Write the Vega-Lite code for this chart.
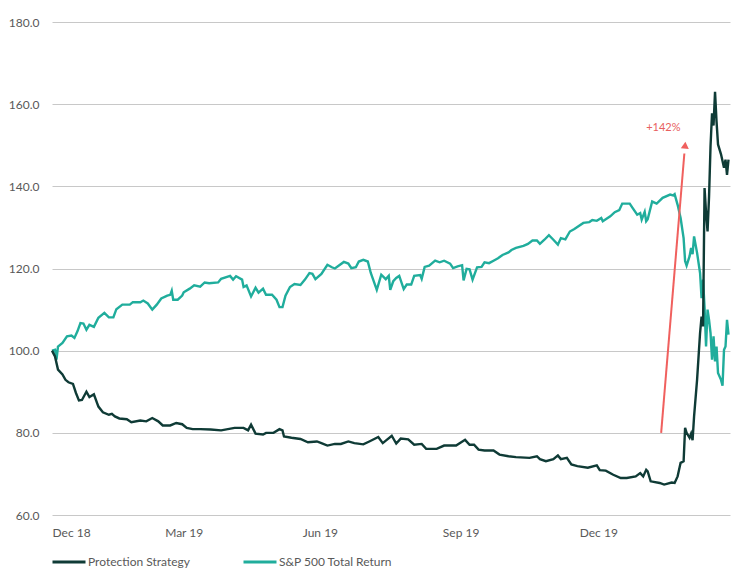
{
  "$schema": "https://vega.github.io/schema/vega-lite/v6.json",
  "width": 678,
  "height": 493,
  "autosize": {"type": "none"},
  "padding": {"left": 52, "top": 22, "right": 24, "bottom": 68},
  "config": {"view": {"stroke": null}, "font": "Lato"},
  "datasets": {
    "sp500": [
      {"date": "2018-12-31", "value": 100},
      {"date": "2019-01-02", "value": 100.2},
      {"date": "2019-01-03", "value": 97.8},
      {"date": "2019-01-04", "value": 101},
      {"date": "2019-01-07", "value": 101.9},
      {"date": "2019-01-10", "value": 103.5},
      {"date": "2019-01-13", "value": 103.7},
      {"date": "2019-01-15", "value": 103.1},
      {"date": "2019-01-17", "value": 104.7},
      {"date": "2019-01-19", "value": 106.7},
      {"date": "2019-01-21", "value": 106.6},
      {"date": "2019-01-23", "value": 105.1},
      {"date": "2019-01-25", "value": 106.3},
      {"date": "2019-01-28", "value": 105.8},
      {"date": "2019-01-31", "value": 108},
      {"date": "2019-02-04", "value": 109.2},
      {"date": "2019-02-07", "value": 108.1},
      {"date": "2019-02-10", "value": 108.1},
      {"date": "2019-02-12", "value": 110.1},
      {"date": "2019-02-16", "value": 111.2},
      {"date": "2019-02-21", "value": 111.2},
      {"date": "2019-02-23", "value": 111.8},
      {"date": "2019-02-28", "value": 111.8},
      {"date": "2019-03-02", "value": 112.2},
      {"date": "2019-03-05", "value": 111.5},
      {"date": "2019-03-08", "value": 110},
      {"date": "2019-03-11", "value": 111.2},
      {"date": "2019-03-14", "value": 112.7},
      {"date": "2019-03-18", "value": 113.4},
      {"date": "2019-03-20", "value": 113.6},
      {"date": "2019-03-21", "value": 114.6},
      {"date": "2019-03-22", "value": 112.4},
      {"date": "2019-03-25", "value": 112.4},
      {"date": "2019-03-28", "value": 113.4},
      {"date": "2019-03-29", "value": 114.2},
      {"date": "2019-04-02", "value": 115.1},
      {"date": "2019-04-05", "value": 115.9},
      {"date": "2019-04-09", "value": 115.6},
      {"date": "2019-04-12", "value": 116.6},
      {"date": "2019-04-15", "value": 116.4},
      {"date": "2019-04-21", "value": 116.6},
      {"date": "2019-04-23", "value": 117.5},
      {"date": "2019-04-29", "value": 118.2},
      {"date": "2019-05-01", "value": 117.3},
      {"date": "2019-05-03", "value": 118.1},
      {"date": "2019-05-07", "value": 117.3},
      {"date": "2019-05-08", "value": 115.5},
      {"date": "2019-05-10", "value": 115.9},
      {"date": "2019-05-13", "value": 113.2},
      {"date": "2019-05-16", "value": 115.3},
      {"date": "2019-05-18", "value": 114.1},
      {"date": "2019-05-21", "value": 115.1},
      {"date": "2019-05-23", "value": 113.6},
      {"date": "2019-05-27", "value": 113.6},
      {"date": "2019-05-30", "value": 112.4},
      {"date": "2019-06-01", "value": 110.6},
      {"date": "2019-06-03", "value": 110.6},
      {"date": "2019-06-05", "value": 113.4},
      {"date": "2019-06-08", "value": 115.5},
      {"date": "2019-06-11", "value": 116.2},
      {"date": "2019-06-15", "value": 116},
      {"date": "2019-06-18", "value": 117.3},
      {"date": "2019-06-21", "value": 118.9},
      {"date": "2019-06-23", "value": 118.7},
      {"date": "2019-06-25", "value": 117.4},
      {"date": "2019-06-29", "value": 118.7},
      {"date": "2019-07-03", "value": 120.9},
      {"date": "2019-07-06", "value": 120.3},
      {"date": "2019-07-08", "value": 120},
      {"date": "2019-07-14", "value": 121.6},
      {"date": "2019-07-17", "value": 121.2},
      {"date": "2019-07-19", "value": 120.1},
      {"date": "2019-07-22", "value": 120.3},
      {"date": "2019-07-24", "value": 121.7},
      {"date": "2019-07-27", "value": 122.1},
      {"date": "2019-07-30", "value": 121.7},
      {"date": "2019-08-01", "value": 118.9},
      {"date": "2019-08-05", "value": 114.8},
      {"date": "2019-08-08", "value": 118.5},
      {"date": "2019-08-11", "value": 117.4},
      {"date": "2019-08-13", "value": 118.2},
      {"date": "2019-08-14", "value": 114.8},
      {"date": "2019-08-16", "value": 116.9},
      {"date": "2019-08-18", "value": 117.7},
      {"date": "2019-08-20", "value": 118.2},
      {"date": "2019-08-23", "value": 115},
      {"date": "2019-08-25", "value": 116.1},
      {"date": "2019-08-28", "value": 116.1},
      {"date": "2019-08-30", "value": 118.2},
      {"date": "2019-09-03", "value": 118.4},
      {"date": "2019-09-04", "value": 117.5},
      {"date": "2019-09-06", "value": 120.4},
      {"date": "2019-09-09", "value": 120.7},
      {"date": "2019-09-13", "value": 121.9},
      {"date": "2019-09-16", "value": 121.5},
      {"date": "2019-09-19", "value": 121.9},
      {"date": "2019-09-23", "value": 121.2},
      {"date": "2019-09-25", "value": 120.1},
      {"date": "2019-09-28", "value": 120.5},
      {"date": "2019-10-01", "value": 120.8},
      {"date": "2019-10-02", "value": 117.1},
      {"date": "2019-10-04", "value": 119.9},
      {"date": "2019-10-06", "value": 119.8},
      {"date": "2019-10-08", "value": 117.3},
      {"date": "2019-10-11", "value": 120.3},
      {"date": "2019-10-14", "value": 120.4},
      {"date": "2019-10-16", "value": 121.5},
      {"date": "2019-10-19", "value": 121.3},
      {"date": "2019-10-22", "value": 121.9},
      {"date": "2019-10-25", "value": 122.5},
      {"date": "2019-10-28", "value": 123.3},
      {"date": "2019-11-01", "value": 123.9},
      {"date": "2019-11-03", "value": 124.5},
      {"date": "2019-11-06", "value": 125},
      {"date": "2019-11-11", "value": 125.5},
      {"date": "2019-11-14", "value": 126},
      {"date": "2019-11-17", "value": 126.8},
      {"date": "2019-11-20", "value": 126.8},
      {"date": "2019-11-22", "value": 126},
      {"date": "2019-11-25", "value": 127},
      {"date": "2019-11-28", "value": 128.1},
      {"date": "2019-12-01", "value": 127},
      {"date": "2019-12-04", "value": 125.8},
      {"date": "2019-12-06", "value": 127.4},
      {"date": "2019-12-09", "value": 127.1},
      {"date": "2019-12-12", "value": 129},
      {"date": "2019-12-15", "value": 129.6},
      {"date": "2019-12-21", "value": 131.1},
      {"date": "2019-12-25", "value": 131.3},
      {"date": "2019-12-27", "value": 131.8},
      {"date": "2019-12-30", "value": 131.6},
      {"date": "2020-01-02", "value": 132.3},
      {"date": "2020-01-03", "value": 131.5},
      {"date": "2020-01-08", "value": 132.7},
      {"date": "2020-01-11", "value": 133.7},
      {"date": "2020-01-14", "value": 134.2},
      {"date": "2020-01-16", "value": 135.8},
      {"date": "2020-01-21", "value": 135.8},
      {"date": "2020-01-23", "value": 134.7},
      {"date": "2020-01-26", "value": 133.1},
      {"date": "2020-01-28", "value": 133.5},
      {"date": "2020-01-29", "value": 131.9},
      {"date": "2020-01-31", "value": 133.8},
      {"date": "2020-02-01", "value": 131.5},
      {"date": "2020-02-02", "value": 132},
      {"date": "2020-02-05", "value": 136.3},
      {"date": "2020-02-08", "value": 135.8},
      {"date": "2020-02-12", "value": 137.2},
      {"date": "2020-02-17", "value": 138},
      {"date": "2020-02-19", "value": 137.8},
      {"date": "2020-02-20", "value": 138.1},
      {"date": "2020-02-22", "value": 135.5},
      {"date": "2020-02-24", "value": 132.3},
      {"date": "2020-02-26", "value": 127.4},
      {"date": "2020-02-27", "value": 121.8},
      {"date": "2020-02-28", "value": 120.7},
      {"date": "2020-03-01", "value": 123},
      {"date": "2020-03-02", "value": 125},
      {"date": "2020-03-03", "value": 123.5},
      {"date": "2020-03-04", "value": 127.8},
      {"date": "2020-03-06", "value": 123.8},
      {"date": "2020-03-08", "value": 118.9},
      {"date": "2020-03-09", "value": 112.8},
      {"date": "2020-03-10", "value": 117.3},
      {"date": "2020-03-11", "value": 110.5},
      {"date": "2020-03-12", "value": 101},
      {"date": "2020-03-13", "value": 110},
      {"date": "2020-03-14", "value": 107.5},
      {"date": "2020-03-15", "value": 104.3},
      {"date": "2020-03-16", "value": 97.8},
      {"date": "2020-03-17", "value": 103.5},
      {"date": "2020-03-18", "value": 97.4},
      {"date": "2020-03-19", "value": 101},
      {"date": "2020-03-20", "value": 94.6},
      {"date": "2020-03-22", "value": 92.9},
      {"date": "2020-03-23", "value": 91.5},
      {"date": "2020-03-24", "value": 100.2},
      {"date": "2020-03-25", "value": 101},
      {"date": "2020-03-26", "value": 107.5},
      {"date": "2020-03-27", "value": 103.9}
    ],
    "protection": [
      {"date": "2018-12-31", "value": 100},
      {"date": "2019-01-02", "value": 98.6},
      {"date": "2019-01-04", "value": 95.4},
      {"date": "2019-01-07", "value": 94.2},
      {"date": "2019-01-09", "value": 92.9},
      {"date": "2019-01-11", "value": 92.3},
      {"date": "2019-01-14", "value": 91.9},
      {"date": "2019-01-16", "value": 89.7},
      {"date": "2019-01-18", "value": 87.9},
      {"date": "2019-01-20", "value": 88},
      {"date": "2019-01-23", "value": 90},
      {"date": "2019-01-25", "value": 88.7},
      {"date": "2019-01-28", "value": 89.4},
      {"date": "2019-01-31", "value": 86.4},
      {"date": "2019-02-03", "value": 85},
      {"date": "2019-02-07", "value": 84.4},
      {"date": "2019-02-09", "value": 84.6},
      {"date": "2019-02-11", "value": 84},
      {"date": "2019-02-14", "value": 83.5},
      {"date": "2019-02-19", "value": 83.3},
      {"date": "2019-02-22", "value": 82.6},
      {"date": "2019-02-28", "value": 83},
      {"date": "2019-03-04", "value": 82.8},
      {"date": "2019-03-08", "value": 83.6},
      {"date": "2019-03-12", "value": 82.8},
      {"date": "2019-03-15", "value": 81.8},
      {"date": "2019-03-20", "value": 81.8},
      {"date": "2019-03-24", "value": 82.4},
      {"date": "2019-03-28", "value": 82.1},
      {"date": "2019-03-31", "value": 81.2},
      {"date": "2019-04-04", "value": 80.9},
      {"date": "2019-04-09", "value": 80.9},
      {"date": "2019-04-16", "value": 80.8},
      {"date": "2019-04-23", "value": 80.6},
      {"date": "2019-05-02", "value": 81.2},
      {"date": "2019-05-08", "value": 81.2},
      {"date": "2019-05-11", "value": 80.6},
      {"date": "2019-05-13", "value": 82},
      {"date": "2019-05-16", "value": 79.8},
      {"date": "2019-05-21", "value": 79.6},
      {"date": "2019-05-23", "value": 80},
      {"date": "2019-05-28", "value": 80},
      {"date": "2019-06-01", "value": 80.9},
      {"date": "2019-06-03", "value": 80.6},
      {"date": "2019-06-04", "value": 79.1},
      {"date": "2019-06-09", "value": 78.8},
      {"date": "2019-06-15", "value": 78.5},
      {"date": "2019-06-20", "value": 77.7},
      {"date": "2019-06-26", "value": 77.9},
      {"date": "2019-06-29", "value": 77.5},
      {"date": "2019-07-03", "value": 76.9},
      {"date": "2019-07-08", "value": 77.3},
      {"date": "2019-07-12", "value": 77.3},
      {"date": "2019-07-17", "value": 77.9},
      {"date": "2019-07-21", "value": 77.5},
      {"date": "2019-07-27", "value": 77.2},
      {"date": "2019-07-31", "value": 77.9},
      {"date": "2019-08-06", "value": 79},
      {"date": "2019-08-09", "value": 77.5},
      {"date": "2019-08-15", "value": 79.3},
      {"date": "2019-08-18", "value": 77.4},
      {"date": "2019-08-21", "value": 78.6},
      {"date": "2019-08-26", "value": 78.4},
      {"date": "2019-08-30", "value": 77.1},
      {"date": "2019-09-04", "value": 77.3},
      {"date": "2019-09-07", "value": 76.1},
      {"date": "2019-09-14", "value": 76.1},
      {"date": "2019-09-19", "value": 76.9},
      {"date": "2019-09-27", "value": 76.9},
      {"date": "2019-10-03", "value": 78.3},
      {"date": "2019-10-06", "value": 77.1},
      {"date": "2019-10-09", "value": 77.1},
      {"date": "2019-10-12", "value": 75.9},
      {"date": "2019-10-16", "value": 75.7},
      {"date": "2019-10-22", "value": 75.7},
      {"date": "2019-10-26", "value": 74.7},
      {"date": "2019-11-01", "value": 74.3},
      {"date": "2019-11-06", "value": 74.1},
      {"date": "2019-11-15", "value": 73.9},
      {"date": "2019-11-20", "value": 74.3},
      {"date": "2019-11-22", "value": 73.6},
      {"date": "2019-11-26", "value": 73.1},
      {"date": "2019-12-01", "value": 73.6},
      {"date": "2019-12-04", "value": 74.5},
      {"date": "2019-12-06", "value": 73.6},
      {"date": "2019-12-10", "value": 73.9},
      {"date": "2019-12-13", "value": 72.3},
      {"date": "2019-12-17", "value": 71.9},
      {"date": "2019-12-24", "value": 71.5},
      {"date": "2019-12-30", "value": 72.1},
      {"date": "2020-01-01", "value": 70.9},
      {"date": "2020-01-05", "value": 70.8},
      {"date": "2020-01-10", "value": 69.8},
      {"date": "2020-01-15", "value": 69},
      {"date": "2020-01-19", "value": 69},
      {"date": "2020-01-25", "value": 69.4},
      {"date": "2020-01-28", "value": 70.2},
      {"date": "2020-01-30", "value": 69.4},
      {"date": "2020-02-01", "value": 71},
      {"date": "2020-02-02", "value": 70.6},
      {"date": "2020-02-04", "value": 68.2},
      {"date": "2020-02-10", "value": 67.8},
      {"date": "2020-02-13", "value": 67.4},
      {"date": "2020-02-18", "value": 67.9},
      {"date": "2020-02-20", "value": 67.8},
      {"date": "2020-02-22", "value": 69.4},
      {"date": "2020-02-24", "value": 72.7},
      {"date": "2020-02-26", "value": 73.1},
      {"date": "2020-02-27", "value": 81.2},
      {"date": "2020-02-28", "value": 80},
      {"date": "2020-03-01", "value": 78.8},
      {"date": "2020-03-02", "value": 79.8},
      {"date": "2020-03-03", "value": 78.2},
      {"date": "2020-03-04", "value": 84},
      {"date": "2020-03-06", "value": 92.9},
      {"date": "2020-03-08", "value": 104.3},
      {"date": "2020-03-09", "value": 108.3},
      {"date": "2020-03-10", "value": 105.9},
      {"date": "2020-03-11", "value": 139.6},
      {"date": "2020-03-12", "value": 133.6},
      {"date": "2020-03-13", "value": 129},
      {"date": "2020-03-14", "value": 137.5},
      {"date": "2020-03-15", "value": 149.9},
      {"date": "2020-03-16", "value": 157.8},
      {"date": "2020-03-17", "value": 154.8},
      {"date": "2020-03-18", "value": 163},
      {"date": "2020-03-19", "value": 155.8},
      {"date": "2020-03-20", "value": 150.2},
      {"date": "2020-03-22", "value": 147.8},
      {"date": "2020-03-24", "value": 144.5},
      {"date": "2020-03-25", "value": 146.5},
      {"date": "2020-03-26", "value": 142.8},
      {"date": "2020-03-27", "value": 146.5}
    ],
    "arrow": [
      {"start": "2020-02-11", "low": 80, "end": "2020-02-26T12:00:00Z", "high": 148, "tip": "2020-02-27", "tipValue": 150, "labelDate": "2020-02-12T12:00:00Z", "labelValue": 154.2, "label": "+142%"}
    ]
  },
  "layer": [
    {
      "data": {"name": "sp500"},
      "mark": {"type": "line", "strokeWidth": 2.4},
      "encoding": {
        "x": {
          "field": "date",
          "type": "temporal",
          "title": null,
          "scale": {"domain": [{"year": 2018, "month": 12, "date": 31, "utc": true}, {"year": 2020, "month": 3, "date": 28, "utc": true}]},
          "axis": {
            "values": [
              {"year": 2018, "month": 12, "date": 31, "utc": true},
              {"year": 2019, "month": 3, "date": 29, "utc": true},
              {"year": 2019, "month": 6, "date": 28, "utc": true},
              {"year": 2019, "month": 9, "date": 30, "utc": true},
              {"year": 2019, "month": 12, "date": 31, "utc": true}
            ],
            "format": "%b %y",
            "grid": false,
            "domain": false,
            "ticks": false,
            "labelPadding": 12,
            "labelFont": "Lato",
            "labelFontSize": 12,
            "labelColor": "#595959"
          }
        },
        "y": {
          "field": "value",
          "type": "quantitative",
          "title": null,
          "scale": {"domain": [60, 180]},
          "axis": {
            "values": [60, 80, 100, 120, 140, 160, 180],
            "format": ".1f",
            "grid": true,
            "gridColor": "#c8c8c8",
            "gridWidth": 1,
            "domain": false,
            "ticks": false,
            "labelPadding": 13,
            "labelFont": "Lato",
            "labelFontSize": 12,
            "labelColor": "#595959"
          }
        },
        "color": {
          "datum": "S&P 500 Total Return",
          "type": "nominal",
          "scale": {"domain": ["Protection Strategy", "S&P 500 Total Return"], "range": ["#0f3b36", "#20ad9c"]},
          "legend": {
            "title": null,
            "orient": "none",
            "direction": "horizontal",
            "legendX": -1,
            "legendY": 522,
            "symbolType": "stroke",
            "symbolSize": 1089,
            "symbolStrokeWidth": 3,
            "labelOffset": 1,
            "columnPadding": 47,
            "labelFont": "Lato",
            "labelFontSize": 12,
            "labelColor": "#595959"
          }
        }
      }
    },
    {
      "data": {"name": "protection"},
      "mark": {"type": "line", "strokeWidth": 2.4},
      "encoding": {
        "x": {"field": "date", "type": "temporal", "title": null},
        "y": {"field": "value", "type": "quantitative", "title": null},
        "color": {"datum": "Protection Strategy", "type": "nominal"}
      }
    },
    {
      "data": {"name": "arrow"},
      "mark": {"type": "rule", "color": "#f0605e", "strokeWidth": 2},
      "encoding": {
        "x": {"field": "start", "type": "temporal", "title": null},
        "y": {"field": "low", "type": "quantitative", "title": null},
        "x2": {"field": "end"},
        "y2": {"field": "high"}
      }
    },
    {
      "data": {"name": "arrow"},
      "mark": {"type": "point", "shape": "triangle-up", "filled": true, "size": 64, "angle": 4.75, "color": "#f0605e", "opacity": 1},
      "encoding": {
        "x": {"field": "tip", "type": "temporal", "title": null},
        "y": {"field": "tipValue", "type": "quantitative", "title": null}
      }
    },
    {
      "data": {"name": "arrow"},
      "mark": {"type": "text", "color": "#e8605e", "fontSize": 11, "font": "Lato"},
      "encoding": {
        "x": {"field": "labelDate", "type": "temporal", "title": null},
        "y": {"field": "labelValue", "type": "quantitative", "title": null},
        "text": {"field": "label"}
      }
    }
  ]
}
